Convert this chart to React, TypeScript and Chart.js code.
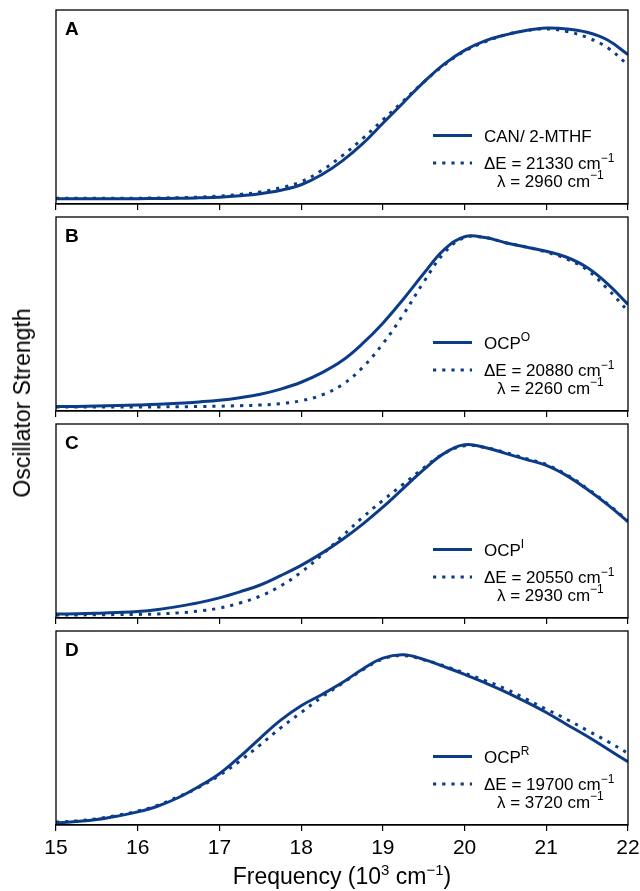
import React, { useEffect, useRef } from 'react';
import { Chart, registerables } from 'chart.js';

Chart.register(...registerables);

// ---- data ----
const frequency = [15, 15.25, 15.5, 15.75, 16, 16.25, 16.5, 16.75, 17, 17.25, 17.5, 17.75, 18, 18.25, 18.5, 18.75, 19, 19.25, 19.5, 19.75, 20, 20.25, 20.5, 20.75, 21, 21.25, 21.5, 21.75, 22];

const spectrumA = [0, 0, 0, 0, 0.001, 0.002, 0.003, 0.006, 0.01, 0.018, 0.03, 0.05, 0.082, 0.14, 0.22, 0.32, 0.44, 0.56, 0.68, 0.785, 0.865, 0.92, 0.955, 0.98, 0.995, 0.99, 0.97, 0.925, 0.84];
const fitA = [0.003, 0.003, 0.003, 0.003, 0.004, 0.005, 0.007, 0.01, 0.016, 0.026, 0.04, 0.065, 0.1, 0.165, 0.25, 0.35, 0.46, 0.57, 0.68, 0.78, 0.86, 0.915, 0.955, 0.98, 0.99, 0.975, 0.94, 0.88, 0.78];

const spectrumB = [0.003, 0.004, 0.006, 0.009, 0.012, 0.016, 0.022, 0.03, 0.04, 0.055, 0.075, 0.105, 0.145, 0.2, 0.27, 0.37, 0.49, 0.63, 0.78, 0.92, 0.995, 0.99, 0.96, 0.935, 0.91, 0.875, 0.815, 0.72, 0.6];
const fitB = [0, 0, 0, 0, 0.001, 0.001, 0.002, 0.003, 0.005, 0.008, 0.012, 0.02, 0.037, 0.07, 0.13, 0.23, 0.37, 0.54, 0.73, 0.9, 0.99, 0.99, 0.96, 0.935, 0.905, 0.865, 0.8, 0.69, 0.56];

const spectrumC = [0.005, 0.007, 0.01, 0.014, 0.02, 0.032, 0.05, 0.072, 0.1, 0.135, 0.175, 0.23, 0.29, 0.36, 0.44, 0.53, 0.63, 0.74, 0.85, 0.945, 0.995, 0.98, 0.945, 0.91, 0.875, 0.815, 0.735, 0.645, 0.545];
const fitC = [0, 0, 0.001, 0.002, 0.003, 0.006, 0.012, 0.023, 0.04, 0.07, 0.11, 0.17, 0.25, 0.35, 0.46, 0.57, 0.67, 0.765, 0.86, 0.945, 0.99, 0.98, 0.95, 0.915, 0.88, 0.82, 0.74, 0.65, 0.55];

const spectrumD = [0, 0.008, 0.02, 0.04, 0.065, 0.1, 0.15, 0.215, 0.29, 0.39, 0.5, 0.605, 0.69, 0.755, 0.825, 0.905, 0.97, 0.99, 0.963, 0.92, 0.875, 0.825, 0.772, 0.713, 0.65, 0.58, 0.51, 0.435, 0.36];
const fitD = [0.005, 0.012, 0.025, 0.045, 0.07, 0.105, 0.155, 0.21, 0.28, 0.365, 0.46, 0.56, 0.65, 0.74, 0.82, 0.9, 0.965, 0.985, 0.96, 0.925, 0.882, 0.838, 0.79, 0.73, 0.67, 0.61, 0.545, 0.48, 0.41];

const xTicks = [15, 16, 17, 18, 19, 20, 21, 22];

const panelLabels = ['A', 'B', 'C', 'D'];
const sampleNames = ['CAN/ 2-MTHF', 'OCP', 'OCP', 'OCP'];
const sampleSups = ['', 'O', 'I', 'R'];
const deltaE = [21330, 20880, 20550, 19700];
const lambdaVals = [2960, 2260, 2930, 3720];

const spectra = [spectrumA, spectrumB, spectrumC, spectrumD];
const fits = [fitA, fitB, fitC, fitD];

// ---- layout / style ----
const BLUE = '#0c3c87';
const FONT = '"Liberation Sans", Arial, Helvetica, sans-serif';
const PANEL_TOPS = [10, 217, 424, 631];
const PANEL_H = 194;
const PAD_TOP = 4;
const CANVAS_W = 656;
const yMins = [-0.03, -0.023, -0.018, -0.012];
const yMaxs = [1.1, 1.11, 1.117, 1.13];

type Part = { t: string; sup?: boolean };

function drawRich(ctx: CanvasRenderingContext2D, parts: Part[], x: number, y: number, size: number) {
  let cx = x;
  for (const p of parts) {
    if (p.sup) {
      ctx.font = `${Math.round(size * 0.68)}px ${FONT}`;
      ctx.fillText(p.t, cx, y - size * 0.42);
    } else {
      ctx.font = `${size}px ${FONT}`;
      ctx.fillText(p.t, cx, y);
    }
    cx += ctx.measureText(p.t).width;
  }
}

function Panel({ index }: { index: number }) {
  const ref = useRef<HTMLCanvasElement>(null);
  const isBottom = index === 3;
  const canvasH = PAD_TOP + PANEL_H + (isBottom ? 60 : 9);

  useEffect(() => {
    if (!ref.current) return;
    const deco = {
      id: 'panelDeco',
      afterDraw(chart: any) {
        const ctx: CanvasRenderingContext2D = chart.ctx;
        const a = chart.chartArea;
        ctx.save();
        ctx.strokeStyle = '#000';
        ctx.lineWidth = 1.3;
        ctx.strokeRect(a.left, a.top, a.right - a.left, a.bottom - a.top);

        // panel letter
        ctx.fillStyle = '#000';
        ctx.textBaseline = 'alphabetic';
        ctx.textAlign = 'left';
        ctx.font = `bold 19px ${FONT}`;
        ctx.fillText(panelLabels[index], a.left + 9, a.top + 25);

        // legend samples
        const lx0 = 433, lx1 = 472;
        ctx.strokeStyle = BLUE;
        ctx.lineWidth = 3;
        ctx.beginPath();
        ctx.moveTo(lx0, a.top + 125.5);
        ctx.lineTo(lx1, a.top + 125.5);
        ctx.stroke();
        ctx.setLineDash([3.2, 6]);
        ctx.beginPath();
        ctx.moveTo(lx0, a.top + 153);
        ctx.lineTo(lx1, a.top + 153);
        ctx.stroke();
        ctx.setLineDash([]);

        ctx.fillStyle = '#000';
        const nameParts: Part[] = [{ t: sampleNames[index] }];
        if (sampleSups[index]) nameParts.push({ t: sampleSups[index], sup: true });
        drawRich(ctx, nameParts, 484, a.top + 131.5, 17);
        drawRich(ctx, [{ t: `ΔE = ${deltaE[index]} cm` }, { t: '−1', sup: true }], 484, a.top + 159, 17);
        drawRich(ctx, [{ t: `λ = ${lambdaVals[index]} cm` }, { t: '−1', sup: true }], 497, a.top + 176.5, 17);
        ctx.restore();
      },
    };

    const lineStyle = {
      borderColor: BLUE,
      borderWidth: 3,
      pointRadius: 0,
      tension: 0.4,
      fill: false,
    };

    const chart = new Chart(ref.current, {
      type: 'line',
      data: {
        datasets: [
          { ...lineStyle, data: frequency.map((x, i) => ({ x, y: spectra[index][i] })) },
          { ...lineStyle, borderDash: [3.2, 6], data: frequency.map((x, i) => ({ x, y: fits[index][i] })) },
        ],
      },
      options: {
        animation: false,
        responsive: false,
        maintainAspectRatio: false,
        devicePixelRatio: 1,
        layout: { padding: { left: 56, right: CANVAS_W - 628, top: PAD_TOP, bottom: 0 } },
        plugins: { legend: { display: false }, tooltip: { enabled: false } },
        scales: {
          x: {
            type: 'linear',
            min: 15,
            max: 22,
            afterBuildTicks: (s: any) => {
              s.ticks = xTicks.map((v) => ({ value: v }));
            },
            afterFit: (s: any) => {
              s.height = isBottom ? 60 : 9;
            },
            grid: { drawOnChartArea: false, drawTicks: true, tickLength: 6, color: '#000', lineWidth: 1.2 },
            border: { display: true, color: '#000', width: 1.3 },
            ticks: {
              display: isBottom,
              color: '#000',
              font: { family: FONT, size: 21 },
              padding: 5,
              maxRotation: 0,
              autoSkip: false,
            },
          },
          y: { display: false, min: yMins[index], max: yMaxs[index] },
        },
      },
      plugins: [deco],
    } as any);
    return () => chart.destroy();
  }, [index]);

  return (
    <canvas
      ref={ref}
      width={CANVAS_W}
      height={canvasH}
      style={{ position: 'absolute', left: 0, top: PANEL_TOPS[index] - PAD_TOP, width: CANVAS_W, height: canvasH }}
    />
  );
}

const supStyle: React.CSSProperties = { fontSize: 15, position: 'relative', top: -9 };

export default function App() {
  return (
    <div style={{ position: 'absolute', left: 0, top: 0, width: 640, height: 891, background: '#fff', overflow: 'hidden', fontFamily: FONT }}>
      {[0, 1, 2, 3].map((i) => (
        <Panel key={i} index={i} />
      ))}
      <div
        style={{
          position: 'absolute',
          left: 56,
          width: 572,
          top: 864,
          fontSize: 23,
          lineHeight: '24px',
          textAlign: 'center',
          color: '#000',
          whiteSpace: 'nowrap',
        }}
      >
        Frequency (10<span style={supStyle}>3</span> cm<span style={supStyle}>−1</span>)
      </div>
      <div
        style={{
          position: 'absolute',
          left: 22,
          top: 403,
          fontSize: 23,
          lineHeight: '24px',
          color: '#000',
          whiteSpace: 'nowrap',
          transform: 'translate(-50%, -50%) rotate(-90deg)',
        }}
      >
        Oscillator Strength
      </div>
    </div>
  );
}
